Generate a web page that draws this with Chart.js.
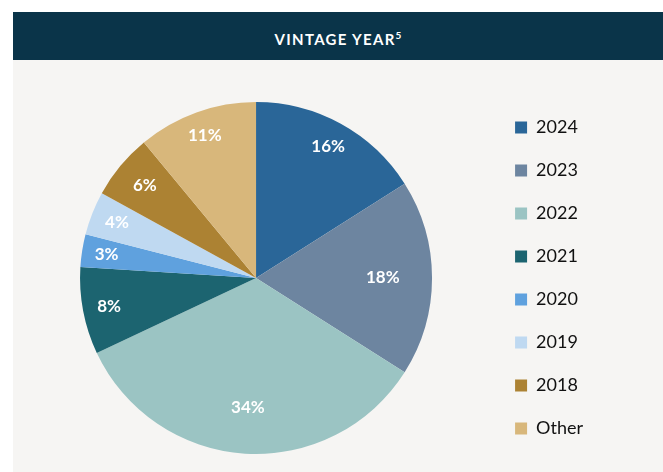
<!DOCTYPE html>
<html>
<head>
<meta charset="utf-8">
<script src="https://cdn.jsdelivr.net/npm/chart.js@4.4.1/dist/chart.umd.min.js"></script>
<style>
  body { margin: 0; background: #fff; }
  #panel { position: absolute; left: 13px; top: 12px; width: 650px; height: 460px; background: #f6f5f3; }
  #head { height: 48px; background: #0a3449; color: #fff; font-family: Lato, sans-serif; font-weight: bold;
          font-size: 15px; letter-spacing: 1.3px; text-align: center; line-height: 46px; }
  #head sup { font-size: 10px; letter-spacing: 0; }
  #wrap { position: relative; width: 650px; height: 412px; }
</style>
</head>
<body>
<div id="panel">
  <div id="head">VINTAGE YEAR<sup>5</sup></div>
  <div id="wrap"><canvas id="myChart_vintage"></canvas></div>
</div>
<script>
// vintage year split
var lab_vintage = ["2024", "2023", "2022", "2021", "2020", "2019", "2018", "Other"];
var data_vintage = [16, 18, 34, 8, 3, 4, 6, 11];
var col_vintage = ['#2a6698', '#6d85a0', '#9bc4c3', '#1c6470', '#5fa1de', '#bfd9f1', '#ac8233', '#d8b77b'];

// where each % label sits, as a share of the radius
var labelPos = [0.85, 0.72, 0.74, 0.85, 0.86, 0.85, 0.82, 0.86];

var pctLabels = {
  id: 'pctLabels',
  afterDatasetsDraw(chart) {
    var ctx = chart.ctx;
    var meta = chart.getDatasetMeta(0);
    ctx.save();
    ctx.fillStyle = '#ffffff';
    ctx.font = 'bold 17px Lato';
    ctx.textAlign = 'center';
    ctx.textBaseline = 'middle';
    meta.data.forEach(function (arc, i) {
      var p = arc.getProps(['x', 'y', 'startAngle', 'endAngle', 'outerRadius'], true);
      var mid = (p.startAngle + p.endAngle) / 2;
      var r = p.outerRadius * labelPos[i];
      ctx.fillText(data_vintage[i] + '%', p.x + Math.cos(mid) * r, p.y + Math.sin(mid) * r);
    });
    ctx.restore();
  }
};

var ctx = document.getElementById("myChart_vintage").getContext('2d');
var myChart_vintage = new Chart(ctx, {
    type: 'pie',
    data: {
      labels: lab_vintage,
      datasets: [{
        data: data_vintage,
        backgroundColor: col_vintage,
        borderWidth: 0,
        radius: 176
      }]
    },
    options: {
      responsive: true,
      maintainAspectRatio: false,
      animation: false,
      layout: {
        padding: { top: 24, bottom: 0, left: 9, right: 70 }
      },
      plugins: {
        legend: {
          position: 'right',
          labels: {
            boxWidth: 12,
            boxHeight: 12,
            padding: 25,
            color: '#111111',
            font: { family: 'Lato', size: 18 }
          }
        },
        tooltip: { enabled: false }
      }
    },
    plugins: [pctLabels]
});
</script>
</body>
</html>
